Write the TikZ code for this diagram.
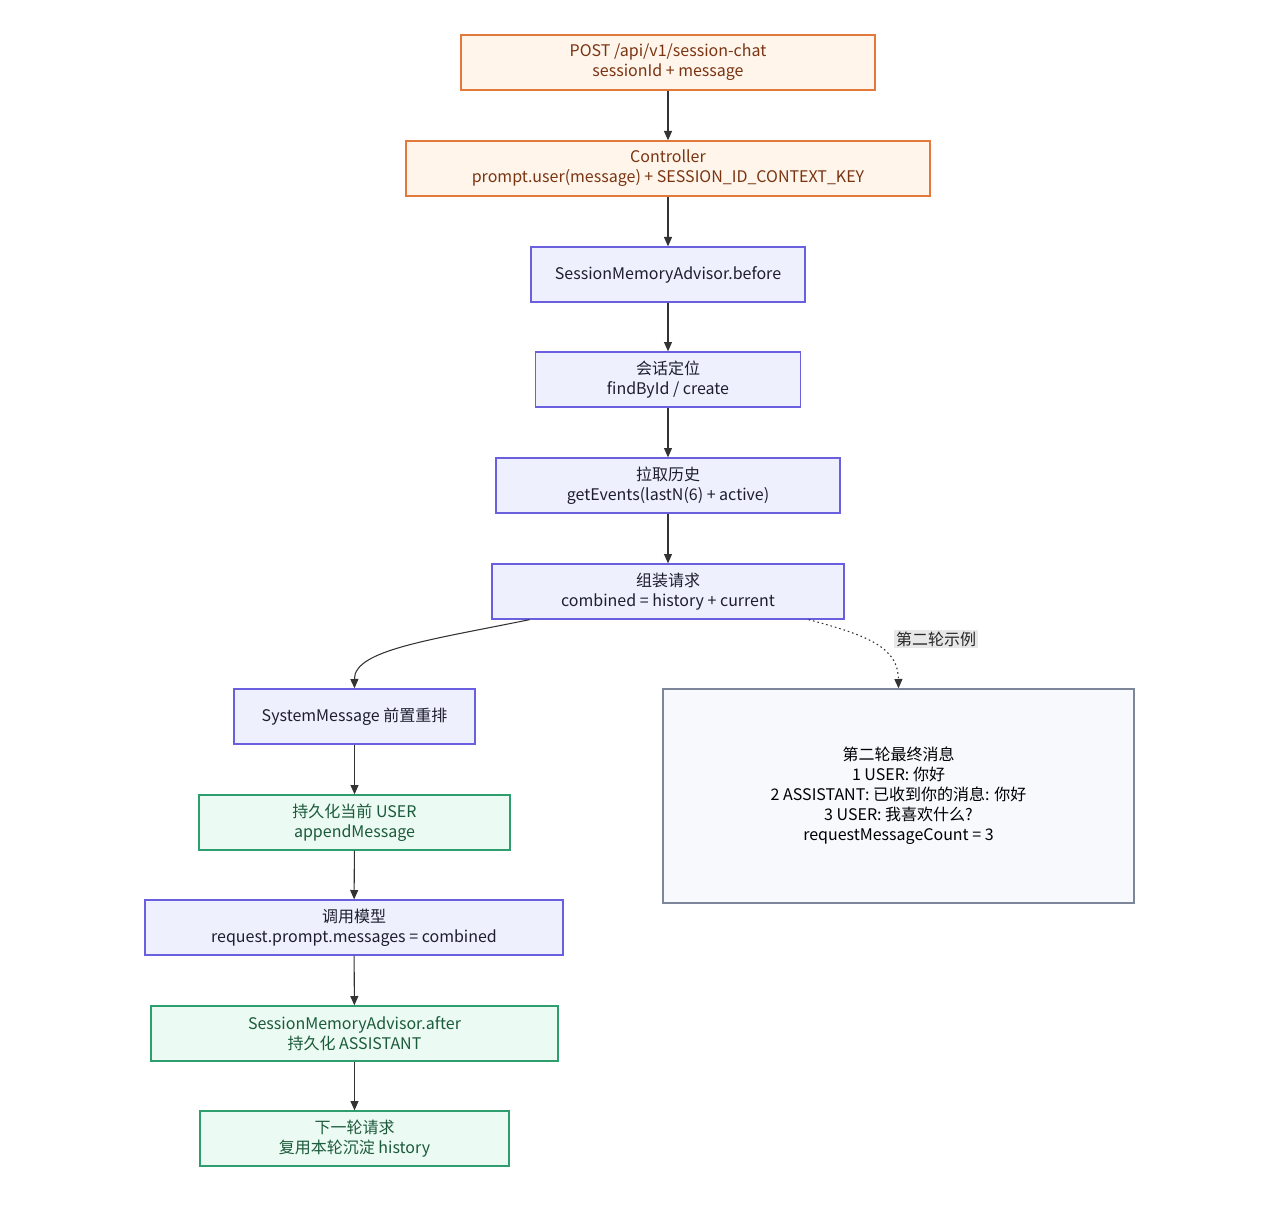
\documentclass[tikz,border=0pt]{standalone}
\usepackage{fontspec}
\setmainfont{Noto Sans CJK SC}
\usetikzlibrary{arrows.meta,calc}
\definecolor{ofill}{HTML}{FFF5EA}
\definecolor{ostroke}{HTML}{E2793A}
\definecolor{otext}{HTML}{7A3412}
\definecolor{bfill}{HTML}{EEF0FD}
\definecolor{bstroke}{HTML}{6A60DF}
\definecolor{btext}{HTML}{1E1E2E}
\definecolor{gfill}{HTML}{EBFAF2}
\definecolor{gstroke}{HTML}{2F9E6E}
\definecolor{gtext}{HTML}{1B5A3A}
\definecolor{xfill}{HTML}{F7F9FC}
\definecolor{xstroke}{HTML}{7D8799}
\definecolor{edge}{HTML}{333333}
\definecolor{lblbg}{HTML}{E8E8E8}
\tikzset{
  box/.style={draw, line width=1pt, rectangle, align=center, inner sep=0pt,
    font=\fontsize{12pt}{15pt}\selectfont, execute at begin node={\vspace*{3pt}}},
  obox/.style={box, fill=ofill, draw=ostroke, text=otext},
  bbox/.style={box, fill=bfill, draw=bstroke, text=btext},
  gbox/.style={box, fill=gfill, draw=gstroke, text=gtext},
  xbox/.style={box, fill=xfill, draw=xstroke, text=black},
  conn/.style={draw=edge, line width=0.8pt, -{Triangle[length=7pt,width=6pt]}},
  dconn/.style={conn, dash pattern=on 1.2pt off 2.2pt},
}
\begin{document}
\begin{tikzpicture}[x=0.75pt,y=-0.75pt]
\path[use as bounding box, fill=white] (0,0) rectangle (1280,1205);
\node[obox, minimum width=414*0.75pt, minimum height=55*0.75pt] (post) at (668,62.5) {POST /api/v1/session-chat\\sessionId + message};
\node[obox, minimum width=524*0.75pt, minimum height=55*0.75pt] (ctl) at (668,168.5) {Controller\\prompt.user(message) + SESSION\_ID\_CONTEXT\_KEY};
\node[bbox, minimum width=274*0.75pt, minimum height=55*0.75pt] (before) at (668,274.5) {SessionMemoryAdvisor.before};
\node[bbox, minimum width=265*0.75pt, minimum height=55*0.75pt] (loc) at (668,379.5) {会话定位\\findById / create};
\node[bbox, minimum width=344*0.75pt, minimum height=55*0.75pt] (hist) at (668,485.5) {拉取历史\\getEvents(lastN(6) + active)};
\node[bbox, minimum width=352*0.75pt, minimum height=55*0.75pt] (comb) at (668,591.5) {组装请求\\combined = history + current};
\node[bbox, minimum width=241*0.75pt, minimum height=55*0.75pt] (sys) at (354.5,716.5) {SystemMessage 前置重排};
\node[gbox, minimum width=311*0.75pt, minimum height=55*0.75pt] (persist) at (354.5,822.5) {持久化当前 USER\\appendMessage};
\node[bbox, minimum width=418*0.75pt, minimum height=55*0.75pt] (call) at (354,927.5) {调用模型\\request.prompt.messages = combined};
\node[gbox, minimum width=407*0.75pt, minimum height=55*0.75pt] (after) at (354.5,1033.5) {SessionMemoryAdvisor.after\\持久化 ASSISTANT};
\node[gbox, minimum width=309*0.75pt, minimum height=55*0.75pt] (next) at (354.5,1138.5) {下一轮请求\\复用本轮沉淀 history};
\node[xbox, minimum width=471*0.75pt, minimum height=214*0.75pt] (ex) at (898.5,796) {第二轮最终消息\\1 USER: 你好\\2 ASSISTANT: 已收到你的消息: 你好\\3 USER: 我喜欢什么?\\requestMessageCount = 3};

\draw[conn] (post) -- (ctl);
\draw[conn] (ctl) -- (before);
\draw[conn] (before) -- (loc);
\draw[conn] (loc) -- (hist);
\draw[conn] (hist) -- (comb);
\coordinate (cl) at ($(comb.south west)!0.108!(comb.south east)$);
\coordinate (cr) at ($(comb.south west)!0.898!(comb.south east)$);
\draw[conn] (cl) .. controls (430,640) and (354,650) .. (sys.north);
\draw[dconn] (cr) .. controls (870,636) and (898,648) .. (ex.north);
\node[fill=lblbg, inner sep=1.5pt, font=\fontsize{12pt}{15pt}\selectfont, text=black!85] (lbl) at (936,639) {第二轮示例};
\draw[conn] (sys) -- (persist);
\draw[conn] (persist) -- (call);
\draw[conn] (call) -- (after);
\draw[conn] (after) -- (next);
\end{tikzpicture}
\end{document}
